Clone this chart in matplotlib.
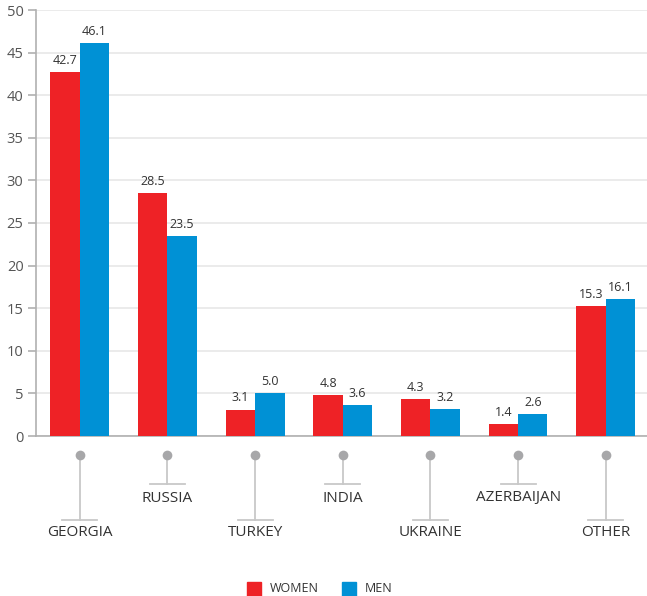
import matplotlib
matplotlib.use("Agg")
import matplotlib.pyplot as plt
import matplotlib.transforms as mtransforms
from matplotlib.patches import Rectangle

categories = ["GEORGIA", "RUSSIA", "TURKEY", "INDIA", "UKRAINE", "AZERBAIJAN", "OTHER"]
women = [42.7, 28.5, 3.1, 4.8, 4.3, 1.4, 15.3]
men = [46.1, 23.5, 5.0, 3.6, 3.2, 2.6, 16.1]
yticks = [0, 5, 10, 15, 20, 25, 30, 35, 40, 45, 50]
series_names = ["WOMEN", "MEN"]

RED = "#ee2226"
BLUE = "#0091d5"
GRAY = "#a7a7a9"
TXT = "#333333"

plt.rcParams['font.family'] = ['Open Sans', 'DejaVu Sans']

W, H = 647, 596
fig = plt.figure(figsize=(W / 100, H / 100), dpi=100)
ax = fig.add_axes([36 / W, (H - 436) / H, (W - 36) / W + 0.004, (436 - 10) / H])

x = list(range(len(categories)))
bw = 0.335
ax.bar([i - bw / 2 for i in x], women, width=bw, color=RED, zorder=3)
ax.bar([i + bw / 2 for i in x], men, width=bw, color=BLUE, zorder=3)

for i in x:
    ax.text(i - bw / 2, women[i] + 0.6, f"{women[i]:.1f}", ha="center", va="bottom",
            fontsize=9, color=TXT)
    ax.text(i + bw / 2, men[i] + 0.6, f"{men[i]:.1f}", ha="center", va="bottom",
            fontsize=9, color=TXT)

ax.set_xlim(-0.5, 6.5)
ax.set_ylim(0, 50)
ax.set_yticks(yticks)
ax.set_yticklabels([str(t) for t in yticks], fontsize=10.5, color="#555555")
ax.set_xticks([])
ax.yaxis.grid(True, color="#e8e8e8", linewidth=1.2, zorder=0)
ax.set_axisbelow(True)
for s in ["top", "right"]:
    ax.spines[s].set_visible(False)
for s in ["left", "bottom"]:
    ax.spines[s].set_color("#b0b0b0")
    ax.spines[s].set_linewidth(1.2)
ax.tick_params(axis="y", length=6, color="#b0b0b0", width=1.2, pad=3)

# lollipop category labels
trans = mtransforms.blended_transform_factory(ax.transData, fig.transFigure)
def fy(py):
    return (H - py) / H

half = 0.2
for i, c in enumerate(categories):
    low = (i % 2 == 0)
    y_end = 520 if low else 484
    y_txt = 533 if low else 498
    ax.plot([i, i], [fy(455), fy(y_end)], transform=trans, color="#c8c8c8", lw=1.3,
            clip_on=False, zorder=2)
    ax.plot([i - half, i + half], [fy(y_end), fy(y_end)], transform=trans,
            color="#c8c8c8", lw=1.3, clip_on=False, zorder=2)
    ax.plot([i], [fy(455)], transform=trans, marker="o", markersize=7, color=GRAY,
            clip_on=False, zorder=3, markeredgewidth=0)
    ax.text(i, fy(y_txt), c, transform=trans, ha="center", va="center", fontsize=11,
            color=TXT)

# legend
for (px, col, name) in [(247, RED, series_names[0]), (342, BLUE, series_names[1])]:
    fig.patches.append(Rectangle((px / W, fy(596)), 14 / W, 14 / H, color=col,
                                 transform=fig.transFigure, figure=fig))
    fig.text((px + 23) / W, fy(589), name, ha="left", va="center", fontsize=9,
             color=TXT)

fig.savefig("out.png", dpi=100)
